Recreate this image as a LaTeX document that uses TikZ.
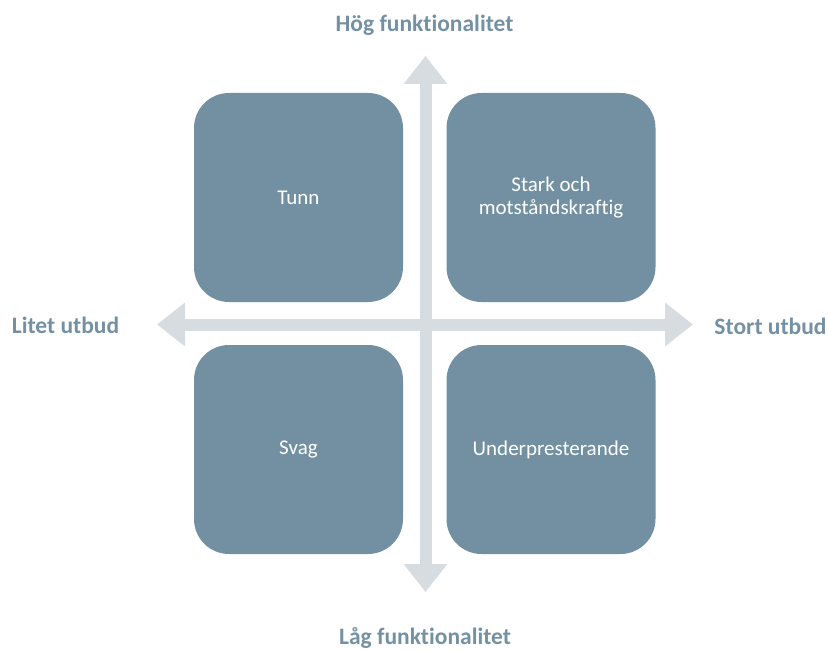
\documentclass[tikz,border=0pt]{standalone}
\usepackage{fontspec}
\setmainfont[Ligatures={NoCommon,TeX}]{Carlito}
\usetikzlibrary{arrows.meta}
\definecolor{boxc}{RGB}{114,144,161}
\definecolor{axisc}{RGB}{214,220,224}
\definecolor{labc}{RGB}{116,145,163}
\begin{document}
\begin{tikzpicture}[x=1pt,y=-1pt,
  quad/.style={fill=boxc, draw=none, rounded corners=35pt, minimum width=209pt, minimum height=209pt, inner sep=0pt, text=white, font=\fontsize{21}{23}\selectfont, align=center},
  axlabel/.style={text=labc, font=\fontsize{23.5}{26}\selectfont\bfseries, inner sep=0pt},
  axisline/.style={draw=axisc, line width=12pt, {Triangle[width=42pt,length=28pt]}-{Triangle[width=42pt,length=28pt]}}]
\useasboundingbox (0,0) rectangle (828,650);
\coordinate (top) at (425.5,56);
\coordinate (bottom) at (425.5,592);
\coordinate (left) at (157,324.5);
\coordinate (right) at (693,324.5);
\draw[axisline] (left) -- (right);
\draw[axisline] (bottom) -- (top);
\node[quad] (tunn) at (298.5,197.5) {Tunn};
\node[quad] (stark) at (551,197.5) {Stark och\\motståndskraftig};
\node[quad] (svag) at (298.5,449.5) {Svag};
\node[quad] (under) at (551,449.5) {Underpresterande};
\node[axlabel] (hog) at (424.5,25) {Hög funktionalitet};
\node[axlabel] (lag) at (425,638) {Låg funktionalitet};
\node[axlabel] (litet) at (65.5,325) {Litet utbud};
\node[axlabel] (stort) at (770.5,326) {Stort utbud};
\end{tikzpicture}
\end{document}
